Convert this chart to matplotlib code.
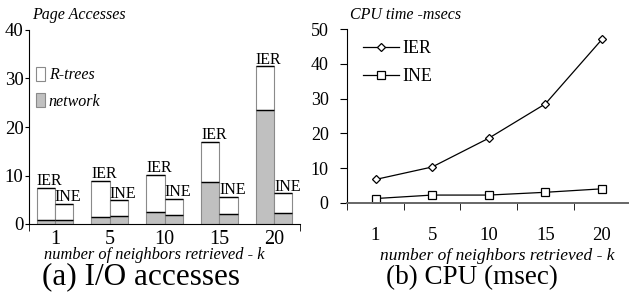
import numpy as np
import matplotlib
matplotlib.use("Agg")
import matplotlib.pyplot as plt

# --------------------------------------------------
# data
# --------------------------------------------------
k_labels = ["1", "5", "10", "15", "20"]

# (a) page accesses, stacked: network part + R-tree part = total
ier_network = [0.9, 1.5, 2.5, 8.7, 23.6]
ier_total = [7.5, 8.9, 10.2, 17.0, 32.5]
ine_network = [0.9, 1.7, 1.8, 2.0, 2.3]
ine_total = [4.2, 4.9, 5.2, 5.6, 6.3]

# (b) CPU time in msec
cpu_ier = [6.7, 10.3, 18.6, 28.5, 47.1]
cpu_ine = [1.2, 2.2, 2.2, 3.0, 4.0]

plt.rcParams["font.family"] = ["Liberation Serif", "DejaVu Serif"]

fig = plt.figure(figsize=(6.29, 2.97), dpi=100)

# --------------------------------------------------
# (a) I/O accesses
# --------------------------------------------------
ax1 = fig.add_axes([29 / 629, 73 / 297, 271 / 629, 194 / 297])

x = np.arange(len(k_labels))
w = 0.333
gray = "#c0c0c0"
side = "#8a8a8a"

ier_rt = np.array(ier_total) - np.array(ier_network)
ine_rt = np.array(ine_total) - np.array(ine_network)

net_bars = ax1.bar(x - w / 2, ier_network, w, color=gray, edgecolor=side, linewidth=0.8)
rt_bars = ax1.bar(x - w / 2, ier_rt, w, bottom=ier_network, color="white",
                  edgecolor=side, linewidth=0.8)
ax1.bar(x + w / 2, ine_network, w, color=gray, edgecolor=side, linewidth=0.8)
ax1.bar(x + w / 2, ine_rt, w, bottom=ine_network, color="white",
        edgecolor=side, linewidth=0.8)

# dark lines on top of every segment
for xs, vals in [(x - w / 2, ier_network), (x - w / 2, ier_total),
                 (x + w / 2, ine_network), (x + w / 2, ine_total)]:
    ax1.hlines(vals, xs - w / 2, xs + w / 2, color="black", linewidth=1.0)

for i in range(len(k_labels)):
    ax1.text(x[i] - w, ier_total[i] - 0.3, "IER", fontsize=11.5,
             ha="left", va="bottom")
    ax1.text(x[i], ine_total[i] - 0.3, "INE", fontsize=11.5,
             ha="left", va="bottom")

ax1.set_xlim(-0.47, 4.47)
ax1.set_ylim(0, 40)
ax1.set_yticks([0, 10, 20, 30, 40])
ax1.set_xticks(x)
ax1.set_xticklabels(k_labels)
ax1.set_xticks([-0.47, 4.47], minor=True)
ax1.tick_params(axis="x", which="major", length=0, pad=4, labelsize=14.5)
ax1.tick_params(axis="x", which="minor", length=5, direction="out")
ax1.tick_params(axis="y", length=3, pad=1, labelsize=13.5)
for s in ["top", "right"]:
    ax1.spines[s].set_visible(False)

ax1.legend([rt_bars[0], net_bars[0]], ["R-trees", "network"],
           loc="upper left", bbox_to_anchor=(-0.01, 0.86), frameon=False,
           handlelength=0.55, handleheight=1.0, handletextpad=0.25,
           labelspacing=0.6, borderaxespad=0.2,
           prop={"style": "italic", "size": 11.5})

fig.text(32 / 629, 1 - 15 / 297, "Page Accesses", fontsize=11.5,
         style="italic", ha="left", va="center")
fig.text(154 / 629, 1 - 255 / 297, "number of neighbors retrieved - k",
         fontsize=11.8, style="italic", ha="center", va="center")
fig.text(141 / 629, 1 - 277 / 297, "(a) I/O accesses", fontsize=22.5,
         ha="center", va="center")

# --------------------------------------------------
# (b) CPU
# --------------------------------------------------
ax2 = fig.add_axes([346.7 / 629, 94.3 / 297, 281.3 / 629, 173.4 / 297])

ax2.plot(x, cpu_ier, color="black", linewidth=0.9, marker="D", markersize=4.5,
         markerfacecolor="white", markeredgecolor="black", markeredgewidth=0.9,
         label="IER")
ax2.plot(x, cpu_ine, color="black", linewidth=0.9, marker="s", markersize=5.5,
         markerfacecolor="white", markeredgecolor="black", markeredgewidth=0.9,
         label="INE")

ax2.set_xlim(-0.51, 4.46)
ax2.set_ylim(0, 50)
ax2.set_yticks([0, 10, 20, 30, 40, 50])
ax2.set_xticks(x)
ax2.set_xticklabels(k_labels)
ax2.set_xticks(np.arange(len(k_labels)) - 0.5, minor=True)
ax2.tick_params(axis="x", which="major", length=0, pad=17.5, labelsize=13.5)
ax2.tick_params(axis="x", which="minor", length=5, direction="out")
ax2.tick_params(axis="y", length=5, pad=8, labelsize=13)
ax2.spines["bottom"].set_color("#666666")
ax2.spines["bottom"].set_linewidth(1.4)
for s in ["top", "right"]:
    ax2.spines[s].set_visible(False)

ax2.legend(loc="upper left", bbox_to_anchor=(0.02, 1.0), frameon=False,
           handlelength=2.0, handletextpad=0.2, labelspacing=0.6,
           borderaxespad=0.2, prop={"size": 13})

fig.text(350 / 629, 1 - 15 / 297, "CPU time -msecs", fontsize=11.5,
         style="italic", ha="left", va="center")
fig.text(497 / 629, 1 - 256 / 297, "number of neighbors retrieved - k",
         fontsize=12.5, style="italic", ha="center", va="center")
fig.text(472 / 629, 1 - 278 / 297, "(b) CPU (msec)", fontsize=19.5,
         ha="center", va="center")

fig.savefig("out.png", dpi=100)
